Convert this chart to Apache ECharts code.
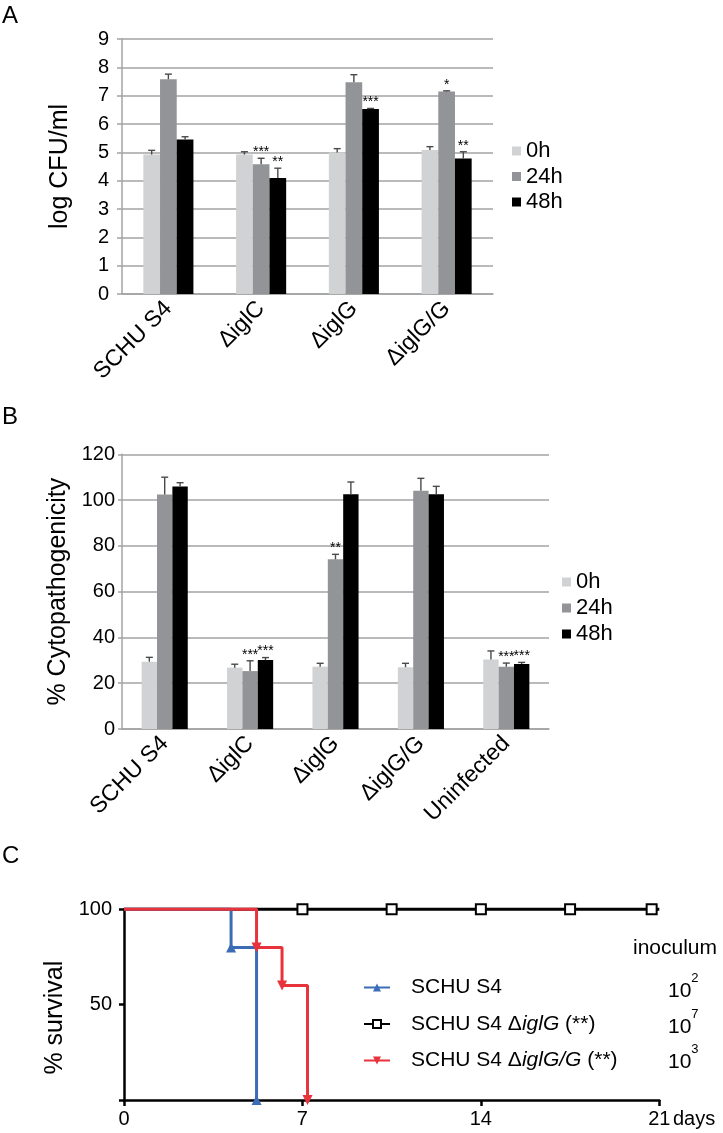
<!DOCTYPE html>
<html><head><meta charset="utf-8">
<script src="https://cdn.jsdelivr.net/npm/echarts@6/dist/echarts.min.js"></script>
<style>html,body{margin:0;padding:0;background:#fff}#c{width:723px;height:1133px}</style>
</head><body><div id="c"></div>
<script>
// ---------- Panel A data ----------
const catsA = ['SCHU S4', 'ΔiglC', 'ΔiglG', 'ΔiglG/G'];
const cfu0h  = [4.92, 4.92, 4.99, 5.08];
const cfu24h = [7.58, 4.58, 7.47, 7.15];
const cfu48h = [5.45, 4.09, 6.53, 4.78];
const cfuErr0h  = [0.15, 0.10, 0.14, 0.12];
const cfuErr24h = [0.18, 0.21, 0.27, 0.02];
const cfuErr48h = [0.10, 0.35, 0.02, 0.24];
const cfuStars0h  = ['', '', '', ''];
const cfuStars24h = ['', '***', '', '*'];
const cfuStars48h = ['', '**', '***', '**'];
const ticksA = [0, 9, 1];
// ---------- Panel B data ----------
const catsB = ['SCHU S4', 'ΔiglC', 'ΔiglG', 'ΔiglG/G', 'Uninfected'];
const cyt0h  = [29.4, 26.8, 27.2, 27.0, 30.4];
const cyt24h = [102.4, 25.3, 74.1, 104.1, 27.2];
const cyt48h = [105.9, 30.1, 102.5, 102.5, 28.4];
const cytErr0h  = [1.9, 1.5, 1.5, 1.7, 3.7];
const cytErr24h = [7.6, 4.5, 2.2, 5.4, 1.6];
const cytErr48h = [1.7, 1.1, 5.4, 3.5, 0.7];
const cytStars0h  = ['', '', '', '', ''];
const cytStars24h = ['', '***', '**', '', '***'];
const cytStars48h = ['', '***', '', '', '***'];
const ticksB = [0, 120, 20];
// ---------- Panel C data ----------
const survSchuDays = [0, 4.2, 4.2, 5.2, 5.2];
const survSchu     = [100, 100, 80, 80, 0];
const survSchuMark = [false, false, true, false, true];
const survIglGDays = [0, 7, 10.5, 14, 17.5, 20.7, 21];
const survIglG     = [100, 100, 100, 100, 100, 100, 100];
const survIglGMark = [false, true, true, true, true, true, false];
const survIglGGDays = [0, 5.2, 5.2, 6.2, 6.2, 7.2, 7.2];
const survIglGG     = [100, 100, 80, 80, 60, 60, 0];
const survIglGGMark = [false, false, true, false, true, false, true];
const namesC = ['SCHU S4', 'SCHU S4 ΔiglG (**)', 'SCHU S4 ΔiglG/G (**)'];
const inoculumExp = ['2', '7', '3'];
const ticksCX = [0, 21, 7];
const ticksCY = [0, 100, 50];

const FONT = '"Liberation Sans", Arial, Helvetica, sans-serif';
const C0 = '#d1d2d4', C24 = '#929497', C48 = '#000000';
const GRID = '#a3a3a3';

function errSeries(xi, yi, vals, errs, stars, k) {
  return {
    type: 'custom', xAxisIndex: xi, yAxisIndex: yi, clip: false, z: 5,
    silent: true,
    data: vals.map((v, i) => [i, v, errs[i]]),
    encode: { x: 0, y: 1 },
    renderItem: function (params, api) {
      const ci = api.value(0), v = api.value(1), e = api.value(2);
      const base = api.coord([ci, v]);
      const band = api.size([1, 0])[0];
      const bw = band * 0.18;
      const x = base[0] + (k - 1) * bw;
      const top = api.coord([ci, v + e])[1];
      const ch = [
        { type: 'line', shape: { x1: x, y1: base[1], x2: x, y2: top }, style: { stroke: '#4a4a4a', lineWidth: 1.4 } },
        { type: 'line', shape: { x1: x - 3.5, y1: top, x2: x + 3.5, y2: top }, style: { stroke: '#4a4a4a', lineWidth: 1.4 } }
      ];
      const s = stars[params.dataIndex];
      if (s) {
        ch.push({ type: 'text', x: x, y: top + 1, style: { text: s, fill: '#000', font: '14px ' + FONT, textAlign: 'center', textVerticalAlign: 'bottom' } });
      }
      return { type: 'group', children: ch };
    }
  };
}

function barSeries(name, xi, yi, vals, color) {
  return { name: name, type: 'bar', xAxisIndex: xi, yAxisIndex: yi, data: vals,
    barWidth: '18%', barGap: '0%', itemStyle: { color: color }, silent: true };
}

function lineSeries(name, days, vals, marks, color, symbol, rotate, symStyle) {
  return {
    name: name, type: 'line', xAxisIndex: 2, yAxisIndex: 2,
    data: days.map((d, i) => marks[i] ? { value: [d, vals[i]] } : { value: [d, vals[i]], symbol: 'none' }),
    symbol: symbol, symbolSize: 10, symbolRotate: rotate, showSymbol: true,
    lineStyle: { color: color, width: 3 },
    itemStyle: symStyle || { color: color },
    emphasis: { disabled: true }, animation: false, silent: true, clip: false
  };
}

const ital = { fontStyle: 'italic', fontSize: 21, fontFamily: FONT, color: '#000' };
const upr = { fontSize: 21, fontFamily: FONT, color: '#000' };

const chart = echarts.init(document.getElementById('c'), null, { renderer: 'canvas' });
chart.setOption({
  animation: false,
  backgroundColor: '#fff',
  textStyle: { fontFamily: FONT },
  grid: [
    { left: 122, top: 39, width: 371, height: 255 },
    { left: 122, top: 454.3, width: 427, height: 274.7 },
    { left: 124, top: 909.3, width: 535.3, height: 190.7 }
  ],
  xAxis: [
    { gridIndex: 0, type: 'category', data: catsA,
      axisLine: { lineStyle: { color: GRID, width: 1.5 } }, axisTick: { show: false },
      axisLabel: { rotate: 45, fontSize: 23, color: '#000', margin: 11, fontFamily: FONT } },
    { gridIndex: 1, type: 'category', data: catsB,
      axisLine: { lineStyle: { color: GRID, width: 1.5 } }, axisTick: { show: false },
      axisLabel: { rotate: 45, fontSize: 23, color: '#000', margin: 11, fontFamily: FONT } },
    { gridIndex: 2, type: 'value', min: ticksCX[0], max: ticksCX[1], interval: ticksCX[2],
      axisLine: { lineStyle: { color: '#000', width: 2.5 } },
      axisTick: { show: true, length: 6, lineStyle: { color: '#000', width: 2.5 } },
      axisLabel: { fontSize: 20, color: '#000', margin: 9, fontFamily: FONT },
      splitLine: { show: false } }
  ],
  yAxis: [
    { gridIndex: 0, type: 'value', min: ticksA[0], max: ticksA[1], interval: ticksA[2],
      name: 'log CFU/ml', nameLocation: 'middle', nameGap: 49, nameRotate: 90,
      nameTextStyle: { fontSize: 25, color: '#000', fontFamily: FONT },
      axisLine: { show: true, lineStyle: { color: GRID, width: 1.5 } },
      axisTick: { show: true, length: 5, lineStyle: { color: GRID, width: 1.5 } },
      axisLabel: { fontSize: 20, color: '#000', margin: 13, fontFamily: FONT },
      splitLine: { lineStyle: { color: GRID, width: 1.5 } } },
    { gridIndex: 1, type: 'value', min: ticksB[0], max: ticksB[1], interval: ticksB[2],
      name: '% Cytopathogenicity', nameLocation: 'middle', nameGap: 50, nameRotate: 90,
      nameTextStyle: { fontSize: 25, color: '#000', fontFamily: FONT },
      axisLine: { show: true, lineStyle: { color: GRID, width: 1.5 } },
      axisTick: { show: true, length: 4, lineStyle: { color: GRID, width: 1.5 } },
      axisLabel: { fontSize: 20, color: '#000', margin: 7, fontFamily: FONT },
      splitLine: { lineStyle: { color: GRID, width: 1.5 } } },
    { gridIndex: 2, type: 'value', min: ticksCY[0], max: ticksCY[1], interval: ticksCY[2],
      name: '% survival', nameLocation: 'middle', nameGap: 52, nameRotate: 90,
      nameTextStyle: { fontSize: 25, color: '#000', fontFamily: FONT, padding: [0, 26, 0, 0] },
      axisLine: { show: true, lineStyle: { color: '#000', width: 2.5 } },
      axisTick: { show: true, length: 5, lineStyle: { color: '#000', width: 2.5 } },
      axisLabel: { fontSize: 20, color: '#000', margin: 12, fontFamily: FONT,
        formatter: v => v === 0 ? '' : String(v) },
      splitLine: { show: false } }
  ],
  legend: [
    { data: ['0h', '24h', '48h'], orient: 'vertical', left: 512, top: 140, padding: 0,
      itemWidth: 9, itemHeight: 9, itemGap: 3.5, icon: 'rect', selectedMode: false,
      textStyle: { fontSize: 22, color: '#000', fontFamily: FONT } },
    { data: ['0h', '24h', '48h'], orient: 'vertical', left: 562, top: 571, padding: 0,
      itemWidth: 9, itemHeight: 9, itemGap: 4, icon: 'rect', selectedMode: false,
      textStyle: { fontSize: 22, color: '#000', fontFamily: FONT } },
    { data: namesC, orient: 'vertical', left: 363, top: 977, padding: 0,
      itemWidth: 26, itemHeight: 10, itemGap: 15.5, selectedMode: false,
      formatter: function (n) {
        if (n === namesC[0]) return '{p|}{u|SCHU S4}';
        if (n === namesC[1]) return '{p|}{u|SCHU S4 Δ}{i|iglG}{u| (**)}';
        return '{p|}{u|SCHU S4 Δ}{i|iglG/G}{u| (**)}';
      },
      textStyle: { fontSize: 21, color: '#000', fontFamily: FONT,
        rich: { p: { width: 16 }, u: upr, i: ital } } }
  ],
  graphic: [
    { type: 'text', left: 2, top: 4, style: { text: 'A', font: '24px ' + FONT, fill: '#000' } },
    { type: 'text', left: 2, top: 405, style: { text: 'B', font: '24px ' + FONT, fill: '#000' } },
    { type: 'text', left: 2, top: 844, style: { text: 'C', font: '24px ' + FONT, fill: '#000' } },
    { type: 'text', left: 633, top: 938, style: { text: 'inoculum', font: '21px ' + FONT, fill: '#000' } },
    { type: 'text', left: 673, top: 1109, style: { text: 'days', font: '20px ' + FONT, fill: '#000' } },
    ...inoculumExp.map((e, i) => ({
      type: 'text', left: 668, top: 972 + i * 35.6,
      style: { text: '{b|10}{s|' + e + '}', fill: '#000',
        rich: { b: { fontSize: 21, fontFamily: FONT, lineHeight: 30, verticalAlign: 'bottom' },
                s: { fontSize: 13, fontFamily: FONT, lineHeight: 14, verticalAlign: 'top' } } }
    }))
  ],
  series: [
    barSeries('0h', 0, 0, cfu0h, C0),
    barSeries('24h', 0, 0, cfu24h, C24),
    barSeries('48h', 0, 0, cfu48h, C48),
    errSeries(0, 0, cfu0h, cfuErr0h, cfuStars0h, 0),
    errSeries(0, 0, cfu24h, cfuErr24h, cfuStars24h, 1),
    errSeries(0, 0, cfu48h, cfuErr48h, cfuStars48h, 2),
    barSeries('0h', 1, 1, cyt0h, C0),
    barSeries('24h', 1, 1, cyt24h, C24),
    barSeries('48h', 1, 1, cyt48h, C48),
    errSeries(1, 1, cyt0h, cytErr0h, cytStars0h, 0),
    errSeries(1, 1, cyt24h, cytErr24h, cytStars24h, 1),
    errSeries(1, 1, cyt48h, cytErr48h, cytStars48h, 2),
    lineSeries(namesC[1], survIglGDays, survIglG, survIglGMark, '#000', 'rect', 0,
      { color: '#fff', borderColor: '#000', borderWidth: 2 }),
    lineSeries(namesC[0], survSchuDays, survSchu, survSchuMark, '#3a6db5', 'triangle', 0),
    lineSeries(namesC[2], survIglGGDays, survIglGG, survIglGGMark, '#e8333c', 'triangle', 180)
  ]
});
</script></body></html>
